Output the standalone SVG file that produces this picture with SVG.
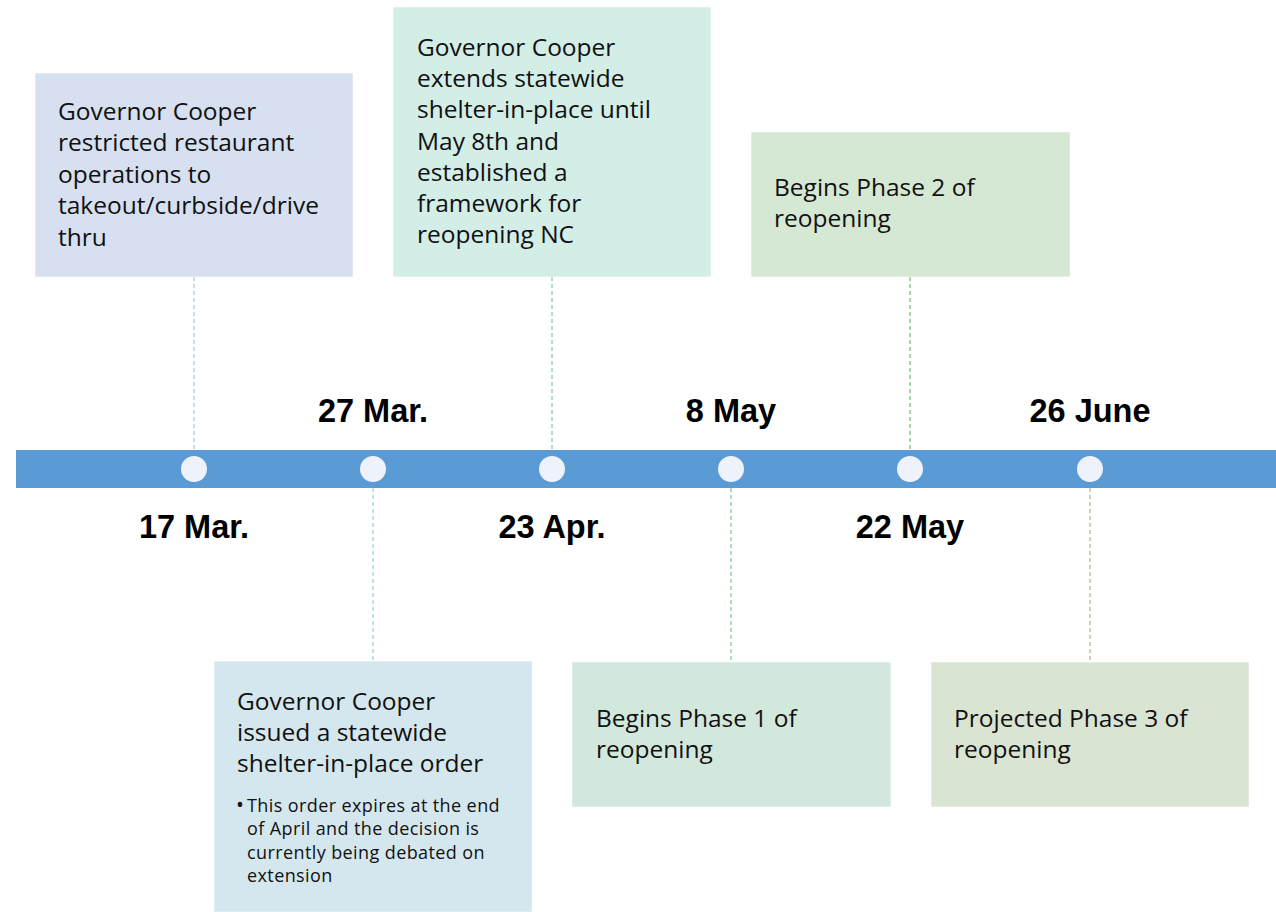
<svg xmlns="http://www.w3.org/2000/svg" width="1276" height="912" viewBox="0 0 1276 912">
<style>
.box{stroke:#ffffff;stroke-opacity:0.5;stroke-width:1}
.t{font-family:"Open Sans","Noto Sans",sans-serif;font-size:24.5px;fill:#111}
.s{font-family:"Open Sans","Noto Sans",sans-serif;font-size:18px;letter-spacing:0.4px;fill:#111}
.d{font-family:"Liberation Sans",Arial,sans-serif;font-weight:bold;font-size:32.5px;fill:#000;text-anchor:middle}
.c{stroke-width:1;stroke-dasharray:4 3;fill:none}
.dot{fill:#EEF3FB}
</style>
<rect width="1276" height="912" fill="#ffffff"/>
<g id="connectors">
<line class="c" x1="194" y1="277" x2="194" y2="450" stroke="#8FB8E0"/>
<line class="c" x1="373" y1="488" x2="373" y2="661" stroke="#7CC8D6"/>
<line class="c" x1="552" y1="277" x2="552" y2="450" stroke="#4CC49A"/>
<line class="c" x1="731" y1="488" x2="731" y2="662" stroke="#5CBF70"/>
<line class="c" x1="910" y1="277" x2="910" y2="450" stroke="#44B844"/>
<line class="c" x1="1090" y1="488" x2="1090" y2="662" stroke="#94A870"/>
</g>
<g id="timeline">
<rect x="16" y="450" width="1260" height="38" fill="#5B9BD5"/>
<circle class="dot" cx="194" cy="469" r="13"/>
<circle class="dot" cx="373" cy="469" r="13"/>
<circle class="dot" cx="552" cy="469" r="13"/>
<circle class="dot" cx="731" cy="469" r="13"/>
<circle class="dot" cx="910" cy="469" r="13"/>
<circle class="dot" cx="1090" cy="469" r="13"/>
</g>
<g id="labels">
<text class="d" x="194" y="538">17 Mar.</text>
<text class="d" x="373" y="422">27 Mar.</text>
<text class="d" x="552" y="538">23 Apr.</text>
<text class="d" x="731" y="422">8 May</text>
<text class="d" x="910" y="538">22 May</text>
<text class="d" x="1090" y="422">26 June</text>
</g>
<g id="node-17mar">
<rect class="box" x="35" y="73" width="318" height="204" fill="#D6E0F0"/>
<text class="t"><tspan x="58" y="120">Governor Cooper</tspan><tspan x="58" y="151">restricted restaurant</tspan><tspan x="58" y="183">operations to</tspan><tspan x="58" y="214">takeout/curbside/drive</tspan><tspan x="58" y="246">thru</tspan></text>
</g>
<g id="node-27mar">
<rect class="box" x="214" y="661" width="318" height="251" fill="#D5E7EE"/>
<text class="t"><tspan x="237" y="710">Governor Cooper</tspan><tspan x="237" y="741">issued a statewide</tspan><tspan x="237" y="772">shelter-in-place order</tspan></text>
<text class="s"><tspan x="236" y="812" font-size="21">•</tspan><tspan x="247" y="812">This order expires at the end</tspan><tspan x="247" y="835.3">of April and the decision is</tspan><tspan x="247" y="858.6">currently being debated on</tspan><tspan x="247" y="882">extension</tspan></text>
</g>
<g id="node-23apr">
<rect class="box" x="393" y="7" width="318" height="270" fill="#D3EDE7"/>
<text class="t"><tspan x="417" y="56">Governor Cooper</tspan><tspan x="417" y="87">extends statewide</tspan><tspan x="417" y="118">shelter-in-place until</tspan><tspan x="417" y="150">May 8th and</tspan><tspan x="417" y="181">established a</tspan><tspan x="417" y="212">framework for</tspan><tspan x="417" y="243">reopening NC</tspan></text>
</g>
<g id="node-8may">
<rect class="box" x="572" y="662" width="319" height="145" fill="#D3E8DC"/>
<text class="t"><tspan x="596" y="727">Begins Phase 1 of</tspan><tspan x="596" y="758">reopening</tspan></text>
</g>
<g id="node-22may">
<rect class="box" x="751" y="132" width="319" height="145" fill="#D4E8D4"/>
<text class="t"><tspan x="774" y="196">Begins Phase 2 of</tspan><tspan x="774" y="227">reopening</tspan></text>
</g>
<g id="node-26june">
<rect class="box" x="931" y="662" width="318" height="145" fill="#DAE4D3"/>
<text class="t"><tspan x="954" y="727">Projected Phase 3 of</tspan><tspan x="954" y="758">reopening</tspan></text>
</g>
</svg>
